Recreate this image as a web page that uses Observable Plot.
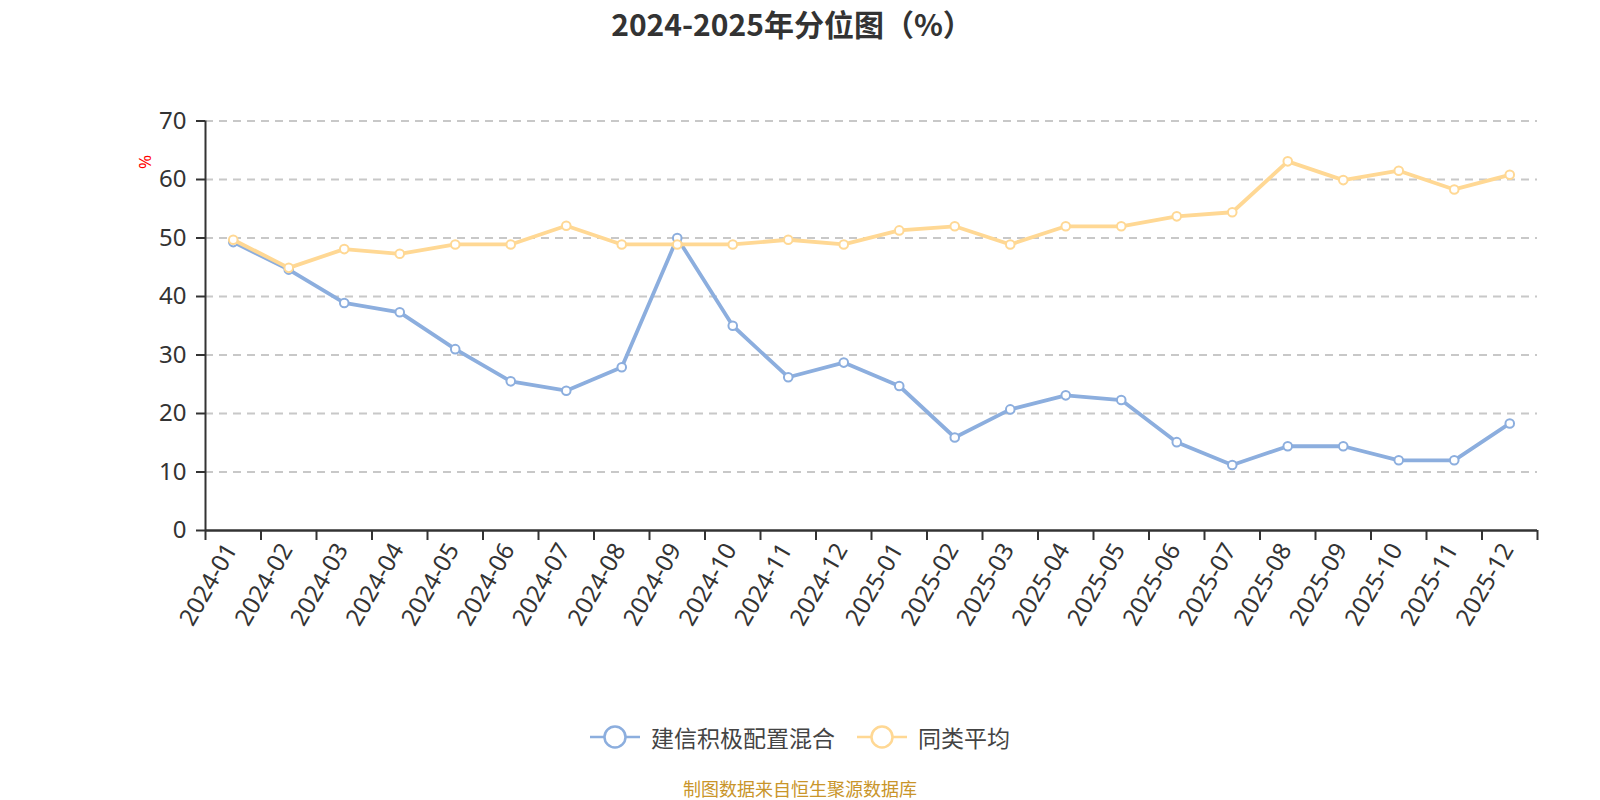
<!DOCTYPE html>
<html><head><meta charset="utf-8">
<script src="https://cdn.jsdelivr.net/npm/d3@7"></script>
<script src="https://cdn.jsdelivr.net/npm/@observablehq/plot@0.6"></script>
<style>
body{margin:0;background:#fff;font-family:"Noto Sans CJK SC","Noto Sans",sans-serif;}
#wrap{position:relative;width:1600px;height:800px;overflow:hidden;}
#title{position:absolute;top:0;left:0;width:1584px;text-align:center;font-size:30px;font-weight:bold;color:#333;line-height:46px;}
#chart{position:absolute;top:60px;left:0;}
#legend{position:absolute;top:721px;left:0;width:1600px;height:32px;display:flex;justify-content:center;align-items:center;font-size:23px;color:#444;}
.item{display:flex;align-items:center;margin:0 11px;}
.item svg{margin-right:11px;}
#caption{position:absolute;top:778px;left:0;width:1600px;text-align:center;font-size:18px;color:#c9952a;line-height:20px;}
</style></head>
<body><div id="wrap">
<div id="title">2024-2025年分位图（%）</div>
<div id="chart"></div>
<div id="legend"></div>
<div id="caption">制图数据来自恒生聚源数据库</div>
</div>
<script>
const months = ["2024-01","2024-02","2024-03","2024-04","2024-05","2024-06","2024-07","2024-08","2024-09","2024-10","2024-11","2024-12",
"2025-01","2025-02","2025-03","2025-04","2025-05","2025-06","2025-07","2025-08","2025-09","2025-10","2025-11","2025-12"];
const fundValues = [49.3,44.6,38.9,37.3,31.0,25.5,23.9,27.9,50.0,35.0,26.2,28.7,24.7,15.9,20.7,23.1,22.3,15.1,11.2,14.4,14.4,12.0,12.0,18.3];
const avgValues = [49.7,44.9,48.1,47.3,48.9,48.9,52.1,48.9,48.9,48.9,49.7,48.9,51.3,52.0,48.9,52.0,52.0,53.7,54.4,63.1,59.9,61.5,58.3,60.8];
const yTicks = [0,10,20,30,40,50,60,70];
const seriesNames = ["建信积极配置混合","同类平均"];
const colors = ["#8caede","#ffd894"];

const fund = months.map((m,i)=>({i, m, v: fundValues[i]}));
const avg = months.map((m,i)=>({i, m, v: avgValues[i]}));
const font = '"Noto Sans","Noto Sans CJK SC",sans-serif';

const chart = Plot.plot({
  width: 1600, height: 600,
  marginLeft: 205, marginRight: 63, marginTop: 60.5, marginBottom: 130,
  style: {fontFamily: font, background: "transparent", color: "#333"},
  x: {type: "linear", domain: [0, months.length], axis: null},
  y: {domain: [0, 70], axis: null},
  marks: [
    Plot.ruleY(yTicks.filter(d=>d>0), {stroke: "#c8c8c8", strokeWidth: 2, strokeDasharray: "8,6"}),
    Plot.axisY(yTicks, {anchor: "left", tickSize: 9, tickPadding: 10, fontSize: 24, stroke: "#333", strokeWidth: 2, fill: "#333", label: null}),
    Plot.ruleX([0], {y1: 0, y2: 70, stroke: "#333", strokeWidth: 2}),
    Plot.axisX(d3.range(months.length+1), {anchor: "bottom", tickSize: 10, tickFormat: () => "", stroke: "#333", strokeWidth: 2, label: null}),
    Plot.ruleY([0], {stroke: "#333", strokeWidth: 2.5}),
    Plot.text(months, {x: (d,i)=>i+0.5, y: 0, text: d=>d, rotate: -60, textAnchor: "end", dx: -2, dy: 15, fontSize: 24, fill: "#333"}),
    Plot.text(["%"], {frameAnchor: "top-left", dx: -67, dy: 48, rotate: -90, fill: "#ff0000", fontSize: 17}),
    Plot.line(fund, {x: d=>d.i+0.5, y: "v", stroke: colors[0], strokeWidth: 3.8}),
    Plot.dot(fund, {x: d=>d.i+0.5, y: "v", r: 4.3, fill: "#fff", stroke: colors[0], strokeWidth: 2}),
    Plot.line(avg, {x: d=>d.i+0.5, y: "v", stroke: colors[1], strokeWidth: 3.8}),
    Plot.dot(avg, {x: d=>d.i+0.5, y: "v", r: 4.3, fill: "#fff", stroke: colors[1], strokeWidth: 2})
  ]
});
document.getElementById("chart").appendChild(chart);

const legend = document.getElementById("legend");
seriesNames.forEach((name, k) => {
  const item = document.createElement("div");
  item.className = "item";
  item.innerHTML = `<svg width="50" height="28"><line x1="0" y1="14" x2="50" y2="14" stroke="${colors[k]}" stroke-width="2.5"/><circle cx="25" cy="14" r="10.5" fill="#fff" stroke="${colors[k]}" stroke-width="2.5"/></svg><span>${name}</span>`;
  legend.appendChild(item);
});
</script>
</body></html>
